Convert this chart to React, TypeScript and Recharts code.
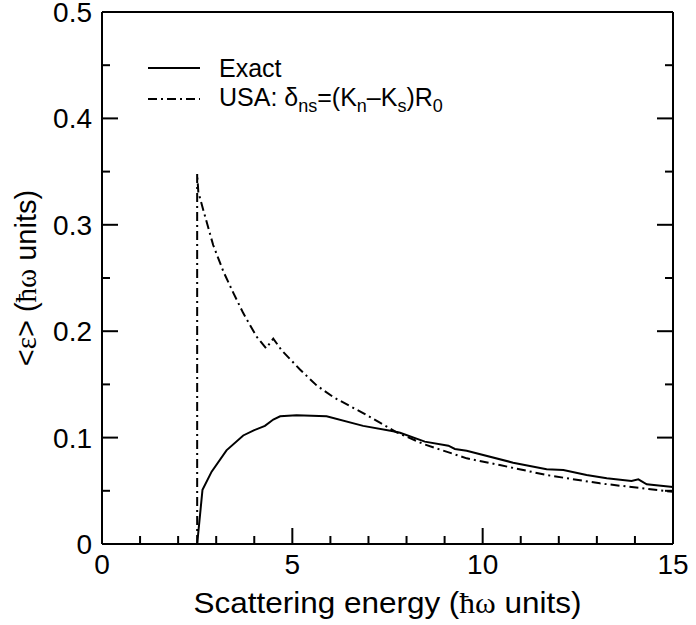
import React from "react";
import { LineChart, Line, XAxis, YAxis, Legend } from "recharts";

// values
const exactX = [2.5, 2.64, 2.88, 3.27, 3.71, 4.0, 4.28, 4.5, 4.68, 5.11, 5.9, 6.86, 7.65, 7.83, 8.48, 9.1, 9.27, 9.58, 10.8, 11.68, 12.12, 12.73, 13.26, 13.91, 14.09, 14.31, 15];
const exactY = [0, 0.051, 0.068, 0.088, 0.102, 0.107, 0.111, 0.117, 0.12, 0.121, 0.12, 0.111, 0.106, 0.1046, 0.0962, 0.0924, 0.0893, 0.0877, 0.0764, 0.0702, 0.0695, 0.0648, 0.0617, 0.0592, 0.0608, 0.0561, 0.0535];

const usaX = [2.5, 2.5, 2.53, 2.66, 2.92, 3.19, 3.45, 3.71, 4.06, 4.31, 4.5, 4.72, 5.2, 5.64, 6.08, 6.86, 7.3, 7.74, 8.44, 9.58, 10.45, 11.68, 13.08, 15];
const usaY = [0, 0.348, 0.331, 0.314, 0.281, 0.256, 0.236, 0.217, 0.195, 0.184, 0.193, 0.182, 0.164, 0.149, 0.138, 0.123, 0.114, 0.105, 0.094, 0.0805, 0.0742, 0.0648, 0.057, 0.049];

const xTicks = [0, 1, 2, 3, 4, 5, 6, 7, 8, 9, 10, 11, 12, 13, 14, 15];
const yTicks = [0, 0.05, 0.1, 0.15, 0.2, 0.25, 0.3, 0.35, 0.4, 0.45, 0.5];

const exactData = exactX.map((x, i) => ({ x, y: exactY[i] }));
const usaData = usaX.map((x, i) => ({ x, y: usaY[i] }));

const FONT = "'Liberation Sans', Arial, Helvetica, sans-serif";
const SERIF = "'Liberation Serif', 'Times New Roman', serif";
const DASHDOT = "9 4 2 4";

const isMajorX = (v: number) => v % 5 === 0;
const isMajorY = (v: number) => Math.abs(Math.round(v * 10) - v * 10) < 1e-6;

function BottomTick({ x, y, payload }: any) {
  const major = isMajorX(payload.value);
  return (
    <g>
      <line x1={x} x2={x} y1={y} y2={y - (major ? 16 : 8)} stroke="#000" strokeWidth={2} />
      {major && (
        <text x={x} y={y + 30} textAnchor="middle" fontSize={28} fontFamily={FONT} fill="#000">
          {payload.value}
        </text>
      )}
    </g>
  );
}

function TopTick({ x, y, payload }: any) {
  const major = isMajorX(payload.value);
  return <line x1={x} x2={x} y1={y} y2={y + (major ? 16 : 8)} stroke="#000" strokeWidth={2} />;
}

function LeftTick({ x, y, payload }: any) {
  const v = payload.value;
  const major = isMajorY(v);
  return (
    <g>
      <line x1={x} x2={x + (major ? 16 : 8)} y1={y} y2={y} stroke="#000" strokeWidth={2} />
      {major && (
        <text x={x - 10} y={y + 10} textAnchor="end" fontSize={28} fontFamily={FONT} fill="#000">
          {v === 0 ? "0" : v.toFixed(1)}
        </text>
      )}
    </g>
  );
}

function RightTick({ x, y, payload }: any) {
  const major = isMajorY(payload.value);
  return <line x1={x} x2={x - (major ? 16 : 8)} y1={y} y2={y} stroke="#000" strokeWidth={2} />;
}

function XTitle({ viewBox }: any) {
  const cx = viewBox.x + viewBox.width / 2;
  return (
    <text x={cx} y={613} textAnchor="middle" fontSize={29} fontFamily={FONT} fill="#000" textLength={388} lengthAdjust="spacingAndGlyphs">
      Scattering energy (<tspan fontFamily={SERIF}>ħω</tspan> units)
    </text>
  );
}

function YTitle({ viewBox }: any) {
  const cy = viewBox.y + viewBox.height / 2;
  const cx = 36;
  return (
    <text x={cx} y={cy} transform={`rotate(-90, ${cx}, ${cy})`} textAnchor="middle" fontSize={29} fontFamily={FONT} fill="#000">
      &lt;<tspan fontFamily={SERIF}>ε</tspan>&gt; (<tspan fontFamily={SERIF}>ħω</tspan> units)
    </text>
  );
}

function LegendBox() {
  return (
    <svg width={340} height={80} style={{ overflow: "visible" }}>
      <line x1={8} x2={60} y1={28} y2={28} stroke="#000" strokeWidth={2} />
      <text x={79} y={37} fontSize={25} fontFamily={FONT} fill="#000">Exact</text>
      <line x1={8} x2={60} y1={59} y2={59} stroke="#000" strokeWidth={2} strokeDasharray={DASHDOT} />
      <text x={79} y={66} fontSize={25} fontFamily={FONT} fill="#000">
        USA: δ<tspan fontSize={18} dy={6}>ns</tspan>
        <tspan dy={-6}>=(K</tspan>
        <tspan fontSize={18} dy={6}>n</tspan>
        <tspan dy={-6}>–K</tspan>
        <tspan fontSize={18} dy={6}>s</tspan>
        <tspan dy={-6}>)R</tspan>
        <tspan fontSize={18} dy={6}>0</tspan>
      </text>
    </svg>
  );
}

export default function App() {
  return (
    <div style={{ position: "absolute", left: 0, top: 0, background: "#fff" }}>
      <LineChart width={696} height={625} margin={{ top: 11, right: 22, left: 0, bottom: 0 }}>
        <XAxis
          xAxisId="bottom"
          dataKey="x"
          type="number"
          domain={[0, 15]}
          allowDataOverflow
          ticks={xTicks}
          interval={0}
          tickSize={0}
          tickMargin={0}
          tickLine={false}
          tick={<BottomTick />}
          axisLine={{ stroke: "#000", strokeWidth: 2 }}
          height={81}
          label={<XTitle />}
        />
        <XAxis
          xAxisId="top"
          orientation="top"
          type="number"
          domain={[0, 15]}
          allowDataOverflow
          ticks={xTicks}
          interval={0}
          tickSize={0}
          tickMargin={0}
          tickLine={false}
          tick={<TopTick />}
          axisLine={{ stroke: "#000", strokeWidth: 2 }}
          height={1}
        />
        <YAxis
          yAxisId="left"
          type="number"
          domain={[0, 0.5]}
          allowDataOverflow
          ticks={yTicks}
          interval={0}
          tickSize={0}
          tickMargin={0}
          tickLine={false}
          tick={<LeftTick />}
          axisLine={{ stroke: "#000", strokeWidth: 2 }}
          width={102}
          label={<YTitle />}
        />
        <YAxis
          yAxisId="right"
          orientation="right"
          type="number"
          domain={[0, 0.5]}
          allowDataOverflow
          ticks={yTicks}
          interval={0}
          tickSize={0}
          tickMargin={0}
          tickLine={false}
          tick={<RightTick />}
          axisLine={{ stroke: "#000", strokeWidth: 2 }}
          width={1}
        />
        <Legend
          layout="vertical"
          align="center"
          verticalAlign="middle"
          wrapperStyle={{ left: 140, top: 40, width: 340 }}
          content={() => <LegendBox />}
        />
        <Line
          xAxisId="bottom"
          yAxisId="left"
          data={usaData}
          dataKey="y"
          type="linear"
          stroke="#000"
          strokeWidth={2}
          strokeDasharray={DASHDOT}
          dot={false}
          isAnimationActive={false}
        />
        <Line
          xAxisId="bottom"
          yAxisId="left"
          data={exactData}
          dataKey="y"
          type="linear"
          stroke="#000"
          strokeWidth={2}
          dot={false}
          isAnimationActive={false}
        />
      </LineChart>
    </div>
  );
}
